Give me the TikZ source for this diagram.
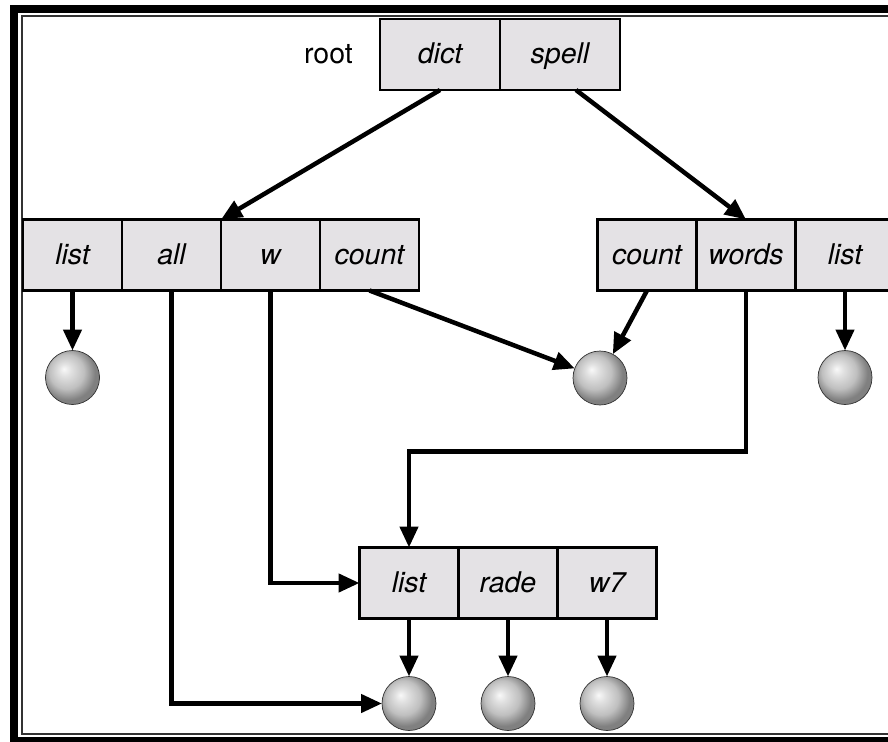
\documentclass[tikz,border=0pt]{standalone}
\usepackage{fontspec}
\setmainfont{TeX Gyre Heros}
\usetikzlibrary{arrows.meta,positioning}
\definecolor{cellgray}{RGB}{228,226,229}
\pgfdeclareradialshading{lightball}{\pgfpoint{-8bp}{8bp}}{%
  color(0bp)=(white!95!gray); color(6bp)=(black!12); color(16bp)=(black!25);
  color(25bp)=(black!50); color(50bp)=(black!50)}

\begin{document}
\begin{tikzpicture}[x=1pt,y=-1pt,->,>={Triangle[length=21pt,width=18pt]},
  line width=4.5pt,node distance=0pt,
  cellbox/.style={draw,line width=2.5pt,fill=cellgray,minimum width=99pt,
    minimum height=71pt,inner sep=0pt,outer sep=0pt,text height=20pt,
    text depth=2pt,font=\fontsize{28.5}{34}\selectfont\itshape},
  leaf/.style={circle,draw=black!80,line width=0.7pt,shading=lightball,
    minimum size=54pt,inner sep=0pt,outer sep=0pt}]
  \clip (0,0) rectangle (888,741);
  % frame, open to the right
  \draw[-,line width=7.5pt] (900,9) -- (13.75,9) -- (13.75,740.5) -- (900,740.5);
  \draw[-,line width=2pt,black!80] (900,16) -- (21.5,16) -- (21.5,734) -- (900,734);

  \node[cellbox,minimum width=120pt] (dict) at (440,54.5) {dict};
  \node[cellbox,minimum width=120pt,right=of dict] (spell) {spell};
  \node[font=\fontsize{28.5}{34}\selectfont,inner sep=0pt,left=25pt of dict] (root) {root};

  \node[cellbox] (llist) at (72.5,255) {list};
  \node[cellbox,right=of llist] (all) {all};
  \node[cellbox,right=of all] (w) {w};
  \node[cellbox,right=of w] (lcount) {count};

  \node[cellbox] (rcount) at (647,255) {count};
  \node[cellbox,right=of rcount] (words) {words};
  \node[cellbox,right=of words] (rlist) {list};

  \node[cellbox] (blist) at (409,583) {list};
  \node[cellbox,right=of blist] (rade) {rade};
  \node[cellbox,right=of rade] (w7) {w7};

  \node[leaf,below=60pt of llist] (p1) {};
  \node[leaf] (p2) at (600,378) {};
  \node[leaf,below=60pt of rlist] (p3) {};
  \node[leaf,below=58pt of blist] (q1) {};
  \node[leaf,below=58pt of rade] (q2) {};
  \node[leaf,below=58pt of w7] (q3) {};

  \path
  (dict.south) edge (w.north west)
  ([xshift=16pt]spell.south) edge (words.north)
  (llist.south) edge (p1.north)
  (lcount.south) edge (p2)
  (rcount.south) edge (p2)
  (rlist.south) edge (p3.north)
  (blist.south) edge (q1.north)
  (rade.south) edge (q2.north)
  (w7.south) edge (q3.north);
  \draw (all.south) |- (q1.west);
  \draw (w.south) |- (blist.west);
  \draw (words.south) -- ++(0,161) -| (blist.north);
\end{tikzpicture}
\end{document}
